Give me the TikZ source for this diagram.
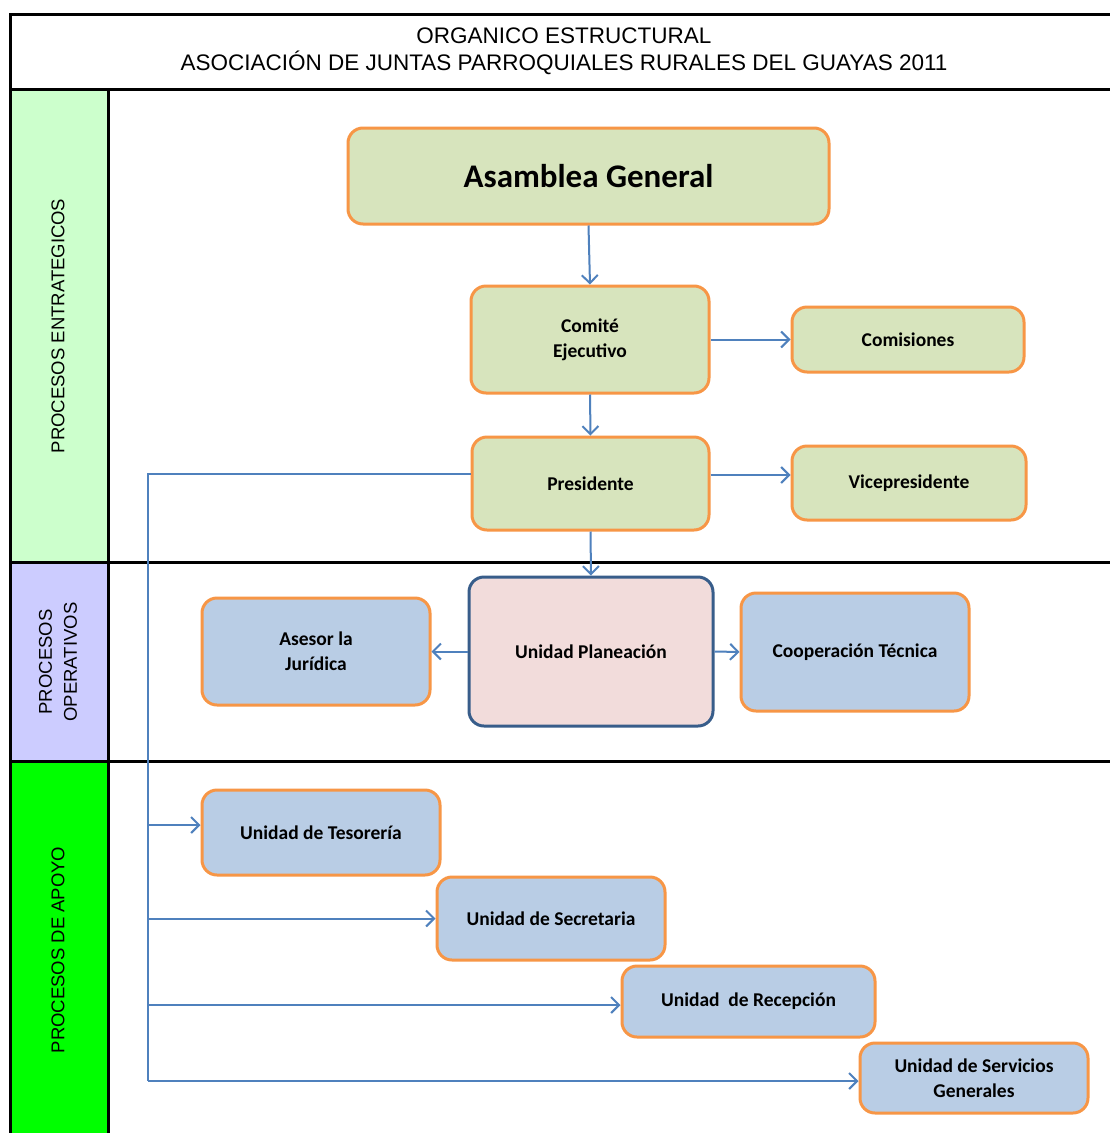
\documentclass[tikz,border=0pt]{standalone}
\usepackage{fontspec}
\setmainfont{Liberation Sans}
\newfontfamily\boxfont{Carlito}
\usetikzlibrary{arrows.meta}
\definecolor{orangeb}{HTML}{F79646}
\definecolor{greenf}{HTML}{D7E4BD}
\definecolor{bluef}{HTML}{B9CDE5}
\definecolor{pinkf}{HTML}{F2DCDB}
\definecolor{darkb}{HTML}{385D8A}
\definecolor{conn}{HTML}{4F81BD}
\definecolor{stratf}{HTML}{CCFFCC}
\definecolor{operf}{HTML}{CCCCFF}
\definecolor{apoyf}{HTML}{00FF00}
\tikzset{
  box/.style={draw=orangeb, line width=3pt, rounded corners=15pt, align=center,
    font=\boxfont\bfseries\fontsize{19.5}{25}\selectfont, inner sep=2pt},
  gbox/.style={box, fill=greenf},
  bbox/.style={box, fill=bluef},
  pbox/.style={box, fill=pinkf, draw=darkb},
  cline/.style={draw=conn, line width=2pt},
  arr/.style={cline, -{Straight Barb[length=8pt,width=16pt,line width=2pt]}},
  frame/.style={line width=3pt, draw=black},
  side/.style={rotate=90, align=center, font=\fontsize{18.5}{25}\selectfont}
}
\begin{document}
\begin{tikzpicture}[x=1pt,y=-1pt]
\useasboundingbox (0,0) rectangle (1110,1133);
\fill[white] (0,0) rectangle (1110,1133);
% left column fills
\fill[stratf] (10,89) rectangle (108,562);
\fill[operf] (10,562) rectangle (108,761);
\fill[apoyf] (10,761) rectangle (108,1133);
% frame
\draw[frame] (10,1133) -- (10,14) -- (1112,14);
\draw[frame] (10,89) -- (1112,89);
\draw[frame] (10,562) -- (1112,562);
\draw[frame] (10,761) -- (1112,761);
\draw[frame] (108,89) -- (108,1133);
% titles
\node[font=\fontsize{22.5}{27}\selectfont, align=center] (title) at (564,51)
  {ORGANICO ESTRUCTURAL\\ASOCIACIÓN DE JUNTAS PARROQUIALES RURALES DEL GUAYAS 2011};
\node[side] (s1) at (58,326) {PROCESOS ENTRATEGICOS};
\node[side] (s2) at (58,662) {PROCESOS\\OPERATIVOS};
\node[side] (s3) at (58,950) {PROCESOS DE APOYO};
% boxes
\node[gbox, minimum width=481pt, minimum height=96pt, font=\boxfont\bfseries\fontsize{33}{38}\selectfont] (asam) at (588.5,176) {Asamblea General};
\node[gbox, minimum width=238pt, minimum height=107pt] (comite) at (590,339.5) {Comité\\Ejecutivo};
\node[gbox, minimum width=232pt, minimum height=65pt] (comis) at (908,339.5) {Comisiones};
\node[gbox, minimum width=237pt, minimum height=93pt] (pres) at (590.5,483.5) {Presidente};
\node[gbox, minimum width=234pt, minimum height=74pt] (vice) at (909,483) {Vicepresidente};
\node[pbox, minimum width=244pt, minimum height=149pt] (plan) at (591,651.5) {Unidad Planeación};
\node[bbox, minimum width=228pt, minimum height=107pt] (asesor) at (316,651.5) {Asesor la\\Jurídica};
\node[bbox, minimum width=228pt, minimum height=118pt] (coop) at (855,652) {Cooperación Técnica};
\node[bbox, minimum width=238pt, minimum height=85pt] (tes) at (321,832.5) {Unidad de Tesorería};
\node[bbox, minimum width=228pt, minimum height=83pt] (sec) at (551,918.5) {Unidad de Secretaria};
\node[bbox, minimum width=253pt, minimum height=71pt] (rec) at (748.5,1001.5) {Unidad\ \ de Recepción};
\node[bbox, minimum width=228pt, minimum height=70pt] (serv) at (974,1078) {Unidad de Servicios\\Generales};
% connectors
\draw[arr] (asam.south) -- (comite.north);
\draw[arr] (comite.south) -- (pres.north);
\draw[arr] (comite.east) -- (comis.west);
\draw[arr] ([yshift=8.5pt]pres.east) -- ([yshift=8.5pt]pres.east -| vice.west);
\draw[arr] (pres.south) -- (plan.north);
\draw[arr] (plan.west) -- (asesor.east);
\draw[arr] (plan.east) -- (coop.west);
\coordinate (trunk) at (148,474);
\coordinate (trunkbot) at (148,1081);
\draw[cline] ([yshift=9.5pt]pres.west) -- (trunk) -- (trunkbot);
\draw[arr] ([yshift=7.5pt]tes.west -| trunk) -- ([yshift=7.5pt]tes.west);
\draw[arr] (sec.west -| trunk) -- (sec.west);
\draw[arr] ([yshift=-3.5pt]rec.west -| trunk) -- ([yshift=-3.5pt]rec.west);
\draw[arr] ([yshift=-3pt]serv.west -| trunk) -- ([yshift=-3pt]serv.west);
\end{tikzpicture}
\end{document}
